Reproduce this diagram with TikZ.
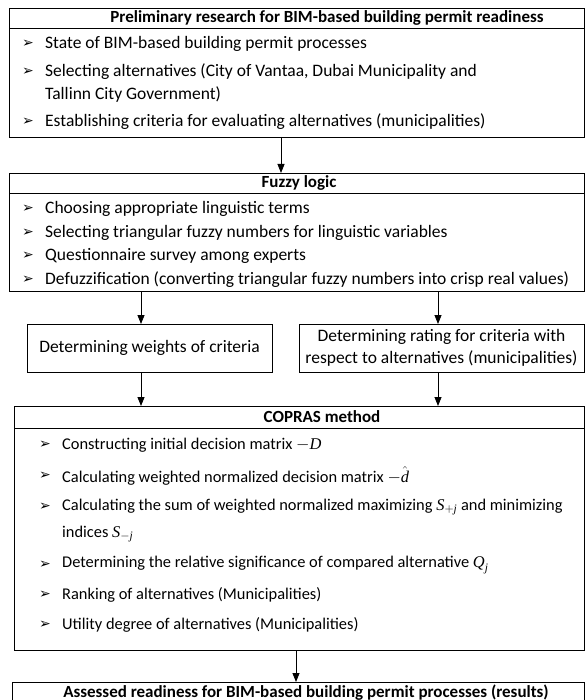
\documentclass[tikz,border=0pt]{standalone}
\usepackage{amsmath}
\usepackage{fontspec}
\setmainfont{Carlito}
\newfontfamily\arrowfont{DejaVu Sans}
\newfontfamily\mfont{Liberation Serif}
\usetikzlibrary{arrows.meta}

% italic serif letters for the symbols in the COPRAS steps
\newcommand\mv[1]{\text{\mfont\itshape #1}}

% one bullet line: [text style], name, x of text, y, text
\newcommand\bitem[5][item]{%
  \node[bul] (#2b) at (#3-23,#4) {➢};
  \node[#1] (#2) at (#3,#4) {#5};}

\begin{document}
\begin{tikzpicture}[x=1pt,y=-1pt,
  frame/.style={draw, line width=0.9pt, inner sep=0pt, outer sep=0pt, anchor=north west},
  head/.style={font=\bfseries\fontsize{17}{20}\selectfont, inner sep=0pt},
  item/.style={anchor=west, inner sep=0pt, font=\fontsize{17.5}{21}\selectfont},
  citem/.style={anchor=west, inner sep=0pt, font=\fontsize{16.4}{20}\selectfont},
  bul/.style={anchor=west, inner sep=0pt, font=\arrowfont\fontsize{14}{14}\selectfont},
  plain/.style={inner sep=0pt, align=center, font=\fontsize{17.5}{22.5}\selectfont},
  flow/.style={draw, line width=0.8pt, -{Triangle[length=9pt,width=7pt]}}]
\useasboundingbox (0,0) rectangle (585,700);

% column positions of the connectors
\coordinate (cm) at (281,0);
\coordinate (cb) at (296,0);
\coordinate (cl) at (141,0);
\coordinate (cr) at (438,0);

% ---- preliminary research
\node[frame, minimum width=575pt, minimum height=129pt] (prelim) at (9,8) {};
\draw ([yshift=-20.5pt]prelim.north west) -- ([yshift=-20.5pt]prelim.north east);
\node[head] (prelimT) at (327,18) {Preliminary research for BIM-based building permit readiness};
\bitem{p1}{45}{44}{State of BIM-based building permit processes}
\bitem{p2}{45}{71.5}{Selecting alternatives (City of Vantaa, Dubai Municipality and}
\node[item] (p2c) at (45,94.5) {Tallinn City Government)};
\bitem{p3}{45}{121.5}{Establishing criteria for evaluating alternatives (municipalities)}

% ---- fuzzy logic
\node[frame, minimum width=575pt, minimum height=118pt] (fuzzy) at (9,173) {};
\draw ([yshift=-20pt]fuzzy.north west) -- ([yshift=-20pt]fuzzy.north east);
\node[head] (fuzzyT) at (299,182.5) {Fuzzy logic};
\bitem{f1}{45}{209}{Choosing appropriate linguistic terms}
\bitem{f2}{45}{232.5}{Selecting triangular fuzzy numbers for linguistic variables}
\bitem{f3}{45}{256}{Questionnaire survey among experts}
\bitem{f4}{45}{279.5}{Defuzzification (converting triangular fuzzy numbers into crisp real values)}

% ---- weights and ratings
\node[frame, minimum width=245pt, minimum height=48pt] (weights) at (27,324) {};
\node[plain] (weightsT) at (weights.center) {Determining weights of criteria};
\node[frame, minimum width=285pt, minimum height=48pt] (rating) at (299,324) {};
\node[plain] (ratingT) at (rating.center) {Determining rating for criteria with\\respect to alternatives (municipalities)};

% ---- COPRAS
\node[frame, minimum width=570pt, minimum height=244pt] (copras) at (14,406) {};
\draw ([yshift=-22pt]copras.north west) -- ([yshift=-22pt]copras.north east);
\node[head] (coprasT) at (322,417) {COPRAS method};
\bitem[citem]{c1}{62}{445}{Constructing initial decision matrix $-\mv{D}$}
\bitem[citem]{c2}{62}{476}{Calculating weighted normalized decision matrix $-\hat{\mv{d}}$}
\bitem[citem]{c3}{62}{507}{Calculating the sum of weighted normalized maximizing $\mv{S}_{+\mv{j}}$ and minimizing}
\node[citem] (c3c) at (62,534) {indices $\mv{S}_{-\mv{j}}$};
\bitem[citem]{c4}{62}{565}{Determining the relative significance of compared alternative $\mv{Q}_{\mv{j}}$}
\bitem[citem]{c5}{62}{595}{Ranking of alternatives (Municipalities)}
\bitem[citem]{c6}{62}{625}{Utility degree of alternatives (Municipalities)}

% ---- results
\node[frame, minimum width=572pt, minimum height=40pt] (result) at (12,682) {};
\node[head] (resultT) at (306,692.5) {Assessed readiness for BIM-based building permit processes (results)};

% ---- connectors
\draw[flow] (prelim.south -| cm) -- (fuzzy.north -| cm);
\draw[flow] (fuzzy.south -| cl) -- (weights.north -| cl);
\draw[flow] (fuzzy.south -| cr) -- (rating.north -| cr);
\draw[flow] (weights.south -| cl) -- (copras.north -| cl);
\draw[flow] (rating.south -| cr) -- (copras.north -| cr);
\draw[flow] (copras.south -| cb) -- (result.north -| cb);
\end{tikzpicture}
\end{document}
